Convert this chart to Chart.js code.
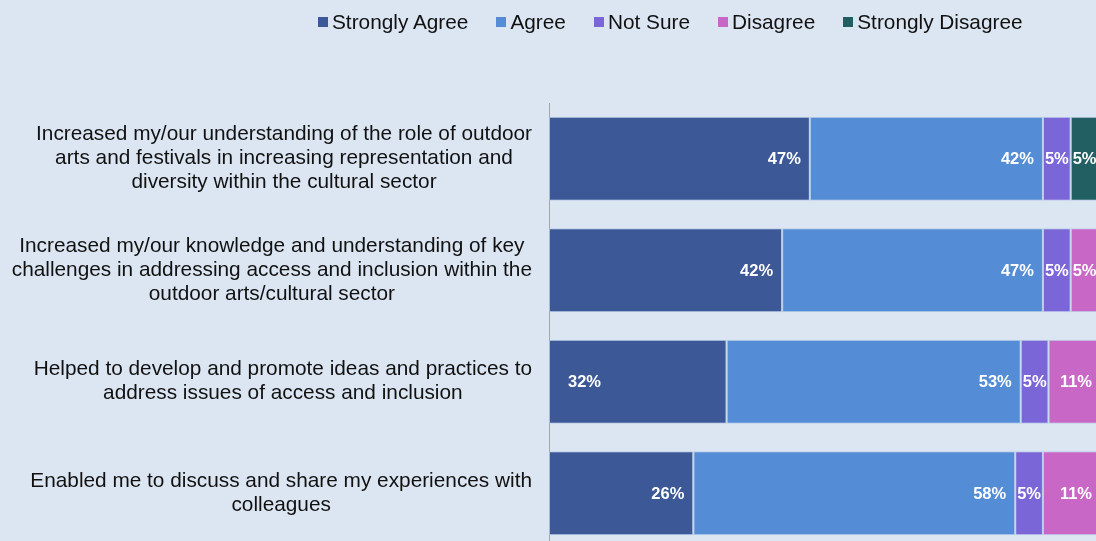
<!DOCTYPE html>
<html>
<head>
<meta charset="utf-8">
<script src="https://cdn.jsdelivr.net/npm/chart.js@4/dist/chart.umd.min.js"></script>
<style>
  html, body { margin: 0; padding: 0; overflow: hidden; background: #dce6f2; }
  #wrap { position: relative; width: 1110px; height: 549px; }
  #legend { position: absolute; top: 10px; left: 318px; display: flex; align-items: center;
            font: 20.8px "Liberation Sans", Arial, sans-serif; color: #111; white-space: nowrap; }
  #legend .item { display: flex; align-items: center; margin-right: 28px; }
  #legend .box { width: 10px; height: 10px; margin-right: 4px; }
</style>
</head>
<body>
<div id="wrap">
  <div id="legend"></div>
  <canvas id="surveyChart" width="1110" height="549"></canvas>
</div>
<script>
// statements, one per row (lines as they wrap)
const categories = [
  ['Increased my/our understanding of the role of outdoor', 'arts and festivals in increasing representation and', 'diversity within the cultural sector'],
  ['Increased my/our knowledge and understanding of key', 'challenges in addressing access and inclusion within the', 'outdoor arts/cultural sector'],
  ['Helped to develop and promote ideas and practices to', 'address issues of access and inclusion'],
  ['Enabled me to discuss and share my experiences with', 'colleagues']
];

const seriesNames = ['Strongly Agree', 'Agree', 'Not Sure', 'Disagree', 'Strongly Disagree'];
const seriesColors = ['#3c5896', '#548dd5', '#7a66d6', '#c967c6', '#215f62'];

// % of respondents
const stronglyAgree = [47, 42, 32, 26];
const agree = [42, 47, 53, 58];
const notSure = [5, 5, 5, 5];
const disagree = [0, 5, 11, 11];
const stronglyDisagree = [5, 0, 0, 0];

const seriesValues = [stronglyAgree, agree, notSure, disagree, stronglyDisagree];

const FONT = '"Liberation Sans", Arial, sans-serif';

// wrapped category text, each block's lines centred, block right-aligned to the axis
const categoryLabels = {
  id: 'categoryLabels',
  afterDraw(chart) {
    const ctx = chart.ctx;
    const yScale = chart.scales.y;
    const right = chart.chartArea.left - 17;
    ctx.save();
    ctx.font = '20.8px ' + FONT;
    ctx.fillStyle = '#111';
    ctx.textAlign = 'center';
    ctx.textBaseline = 'middle';
    chart.data.labels.forEach((lines, i) => {
      const blockW = Math.max(...lines.map(l => ctx.measureText(l).width));
      const cx = right - blockW / 2;
      const yc = yScale.getPixelForValue(i);
      const lh = 24;
      const top = yc - (lines.length - 1) * lh / 2;
      lines.forEach((l, k) => ctx.fillText(l, cx, top + k * lh));
    });
    ctx.restore();
  }
};

// white % labels inside the segments
const valueLabels = {
  id: 'valueLabels',
  afterDatasetsDraw(chart) {
    const ctx = chart.ctx;
    const areaRight = chart.chartArea.right;
    ctx.save();
    ctx.font = 'bold 16.5px ' + FONT;
    ctx.fillStyle = '#ffffff';
    ctx.textBaseline = 'middle';
    chart.data.datasets.forEach((ds, di) => {
      const meta = chart.getDatasetMeta(di);
      meta.data.forEach((bar, i) => {
        const v = ds.data[i];
        if (!v) return;
        const { x, y, base } = bar.getProps(['x', 'y', 'base'], true);
        const end = Math.min(x, areaRight);
        const txt = v + '%';
        const w = ctx.measureText(txt).width;
        const segW = end - base;
        if (segW < w + 20) {
          ctx.textAlign = 'center';
          ctx.fillText(txt, base + segW / 2, y + 1);
        } else if (di === 0 && i === 2) {
          // this one sits near the bar's base
          ctx.textAlign = 'left';
          ctx.fillText(txt, base + 19, y + 1);
        } else {
          ctx.textAlign = 'right';
          ctx.fillText(txt, end - (end < x || end === areaRight ? 12 : 9), y + 1);
        }
      });
    });
    ctx.restore();
  }
};

const datasets = seriesNames.map((name, k) => ({
  label: name,
  data: seriesValues[k],
  backgroundColor: seriesColors[k],
  borderColor: 'rgba(170, 195, 230, 0.7)',
  borderWidth: 1,
  borderSkipped: false,
  barPercentage: 0.755,
  categoryPercentage: 1
}));

const chart = new Chart(document.getElementById('surveyChart'), {
  type: 'bar',
  data: { labels: categories, datasets: datasets },
  options: {
    indexAxis: 'y',
    responsive: false,
    animation: false,
    layout: { padding: { top: 103, right: 6, bottom: 0, left: 0 } },
    scales: {
      x: { stacked: true, min: 0, max: 100, display: false },
      y: {
        stacked: true,
        grid: { display: false, drawTicks: false },
        border: { display: true, color: '#a6a6a6', width: 1 },
        ticks: { display: false },
        afterFit(scale) { scale.width = 549; }
      }
    },
    plugins: {
      legend: { display: false },
      tooltip: { enabled: false }
    }
  },
  plugins: [categoryLabels, valueLabels]
});

// legend row above the plot
const legendEl = document.getElementById('legend');
chart.data.datasets.forEach(ds => {
  const item = document.createElement('div');
  item.className = 'item';
  const box = document.createElement('span');
  box.className = 'box';
  box.style.background = ds.backgroundColor;
  const text = document.createElement('span');
  text.textContent = ds.label;
  item.appendChild(box);
  item.appendChild(text);
  legendEl.appendChild(item);
});
</script>
</body>
</html>
